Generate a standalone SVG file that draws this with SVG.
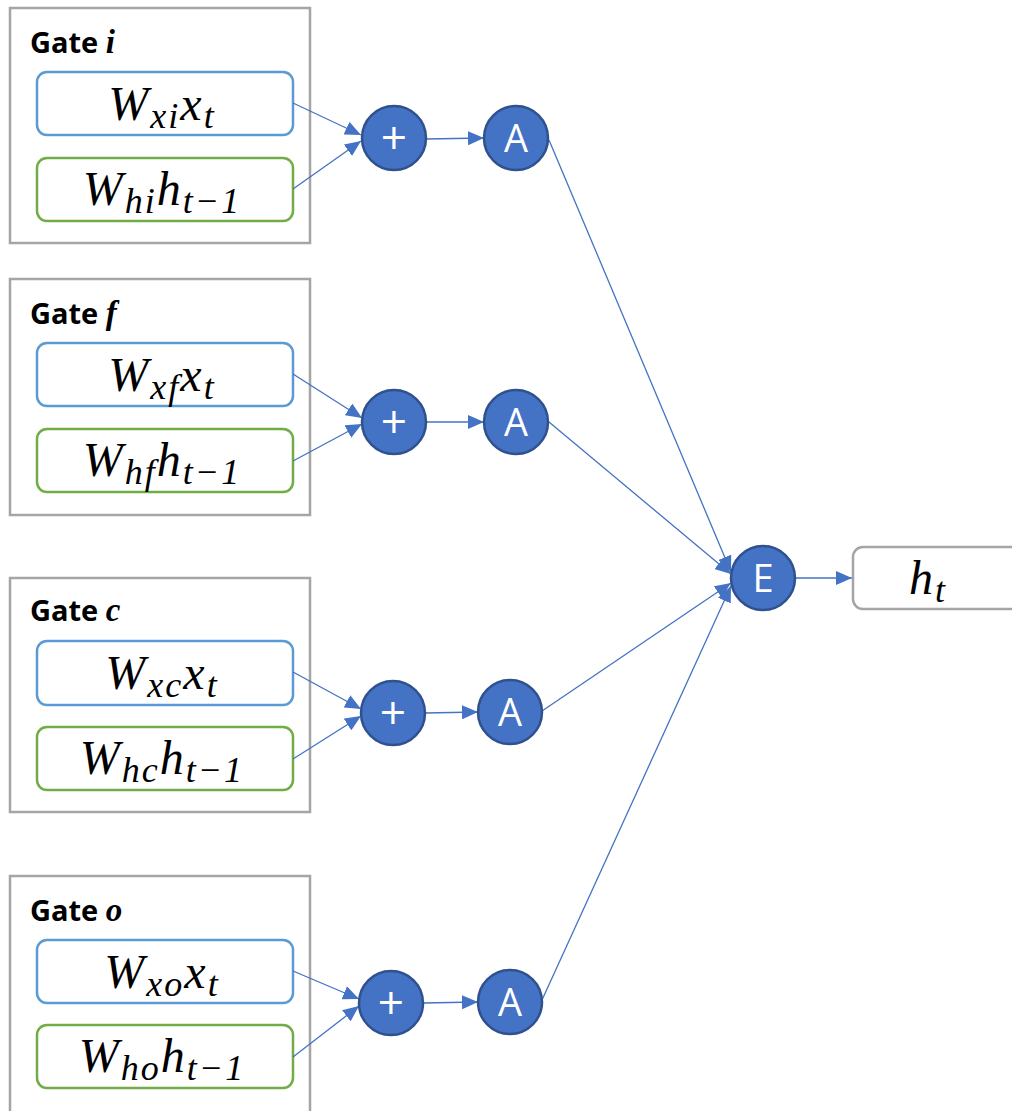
<svg xmlns="http://www.w3.org/2000/svg" width="1012" height="1111" viewBox="0 0 1012 1111">
<defs>
<style>
.gate{fill:#fff;stroke:#A5A5A5;stroke-width:2.5}
.bx{fill:#fff;stroke:#5B9BD5;stroke-width:2.5}
.gx{fill:#fff;stroke:#70AD47;stroke-width:2.5}
.hx{fill:#fff;stroke:#A5A5A5;stroke-width:2.5}
.op{fill:#4472C4;stroke:#2F528F;stroke-width:2.5}
.opt{fill:#fff;font-family:"Open Sans","Liberation Sans",sans-serif;font-size:38px;text-anchor:middle}
.pl{font-size:46px}
.gt{font-family:"Open Sans","Liberation Sans",sans-serif;font-weight:bold;font-size:29px;fill:#000}
.gv{font-family:"Liberation Serif",serif;font-style:italic;font-weight:bold;font-size:33px}
.m{font-family:"Liberation Serif",serif;font-style:italic;font-size:48px;fill:#000;text-anchor:middle;letter-spacing:2px}
.s{font-size:36px}
.c{fill:none;stroke:#4472C4;stroke-width:1.3}
</style>
<marker id="ahl" markerWidth="16" markerHeight="14" refX="16" refY="7" orient="auto" markerUnits="userSpaceOnUse"><path d="M0,0 L16,7 L0,14 z" fill="#4472C4"/></marker>
</defs>
<g id="gate-i">
<rect class="gate" x="10" y="8" width="300" height="235"/>
<text class="gt" x="30" y="53">Gate <tspan class="gv">i</tspan></text>
<rect id="wxi" class="bx" x="37" y="72" width="256" height="63" rx="10"/>
<text class="m" x="162" y="120">W<tspan class="s" dy="8">xi</tspan><tspan dy="-8">x</tspan><tspan class="s" dy="8">t</tspan></text>
<rect id="whi" class="gx" x="37" y="158" width="256" height="63" rx="10"/>
<text class="m" x="162" y="205">W<tspan class="s" dy="8">hi</tspan><tspan dy="-8">h</tspan><tspan class="s" dy="8">t−1</tspan></text>
</g>
<g id="gate-f">
<rect class="gate" x="10" y="279" width="300" height="236"/>
<text class="gt" x="30" y="324">Gate <tspan class="gv">f</tspan></text>
<rect class="bx" x="37" y="343" width="256" height="63" rx="10"/>
<text class="m" x="162" y="391">W<tspan class="s" dy="8">xf</tspan><tspan dy="-8">x</tspan><tspan class="s" dy="8">t</tspan></text>
<rect class="gx" x="37" y="429" width="256" height="63" rx="10"/>
<text class="m" x="162" y="476">W<tspan class="s" dy="8">hf</tspan><tspan dy="-8">h</tspan><tspan class="s" dy="8">t−1</tspan></text>
</g>
<g id="gate-c">
<rect class="gate" x="10" y="578" width="300" height="234"/>
<text class="gt" x="30" y="621">Gate <tspan class="gv">c</tspan></text>
<rect class="bx" x="37" y="641" width="256" height="64" rx="10"/>
<text class="m" x="162" y="689">W<tspan class="s" dy="8">xc</tspan><tspan dy="-8">x</tspan><tspan class="s" dy="8">t</tspan></text>
<rect class="gx" x="37" y="727" width="256" height="63" rx="10"/>
<text class="m" x="162" y="774">W<tspan class="s" dy="8">hc</tspan><tspan dy="-8">h</tspan><tspan class="s" dy="8">t−1</tspan></text>
</g>
<g id="gate-o">
<rect class="gate" x="10" y="876" width="300" height="240"/>
<text class="gt" x="30" y="921">Gate <tspan class="gv">o</tspan></text>
<rect class="bx" x="37" y="940" width="256" height="63" rx="10"/>
<text class="m" x="162" y="988">W<tspan class="s" dy="8">xo</tspan><tspan dy="-8">x</tspan><tspan class="s" dy="8">t</tspan></text>
<rect class="gx" x="37" y="1025" width="256" height="63" rx="10"/>
<text class="m" x="162" y="1072">W<tspan class="s" dy="8">ho</tspan><tspan dy="-8">h</tspan><tspan class="s" dy="8">t−1</tspan></text>
</g>
<g id="connectors">
<line class="c" x1="293" y1="103" x2="361" y2="135" marker-end="url(#ahl)"/>
<line class="c" x1="293" y1="189" x2="361" y2="141" marker-end="url(#ahl)"/>
<line class="c" x1="426" y1="139" x2="484" y2="138" marker-end="url(#ahl)"/>
<line class="c" x1="293" y1="374" x2="362" y2="418" marker-end="url(#ahl)"/>
<line class="c" x1="293" y1="461" x2="362" y2="424" marker-end="url(#ahl)"/>
<line class="c" x1="426" y1="422" x2="484" y2="422" marker-end="url(#ahl)"/>
<line class="c" x1="293" y1="672" x2="361" y2="709" marker-end="url(#ahl)"/>
<line class="c" x1="293" y1="759" x2="361" y2="716" marker-end="url(#ahl)"/>
<line class="c" x1="425" y1="713" x2="478" y2="712" marker-end="url(#ahl)"/>
<line class="c" x1="293" y1="971" x2="359" y2="999" marker-end="url(#ahl)"/>
<line class="c" x1="293" y1="1057" x2="359" y2="1006" marker-end="url(#ahl)"/>
<line class="c" x1="423" y1="1003" x2="478" y2="1002" marker-end="url(#ahl)"/>
<line class="c" x1="549" y1="140" x2="731" y2="572" marker-end="url(#ahl)"/>
<line class="c" x1="549" y1="422" x2="731" y2="574" marker-end="url(#ahl)"/>
<line class="c" x1="542" y1="711" x2="731" y2="583" marker-end="url(#ahl)"/>
<line class="c" x1="542" y1="1000" x2="731" y2="586" marker-end="url(#ahl)"/>
<line class="c" x1="795" y1="578" x2="852" y2="578" marker-end="url(#ahl)"/>
</g>
<g id="plus-i"><circle class="op" cx="394" cy="138" r="32"/><text class="opt pl" x="394" y="154">+</text></g>
<g id="act-i"><circle class="op" cx="516" cy="138" r="32"/><text class="opt" x="516" y="152">A</text></g>
<g id="plus-f"><circle class="op" cx="394" cy="422" r="32"/><text class="opt pl" x="394" y="438">+</text></g>
<g id="act-f"><circle class="op" cx="516" cy="422" r="32"/><text class="opt" x="516" y="436">A</text></g>
<g id="plus-c"><circle class="op" cx="393" cy="713" r="32"/><text class="opt pl" x="393" y="729">+</text></g>
<g id="act-c"><circle class="op" cx="510" cy="712" r="32"/><text class="opt" x="510" y="726">A</text></g>
<g id="plus-o"><circle class="op" cx="391" cy="1003" r="32"/><text class="opt pl" x="391" y="1019">+</text></g>
<g id="act-o"><circle class="op" cx="510" cy="1002" r="32"/><text class="opt" x="510" y="1016">A</text></g>
<g id="elem"><circle class="op" cx="763" cy="578" r="32"/><text class="opt" x="763" y="592">E</text></g>
<g id="ht"><rect class="hx" x="853" y="547" width="170" height="62" rx="10"/>
<text class="m" x="928" y="594">h<tspan class="s" dy="8">t</tspan></text></g>
</svg>
